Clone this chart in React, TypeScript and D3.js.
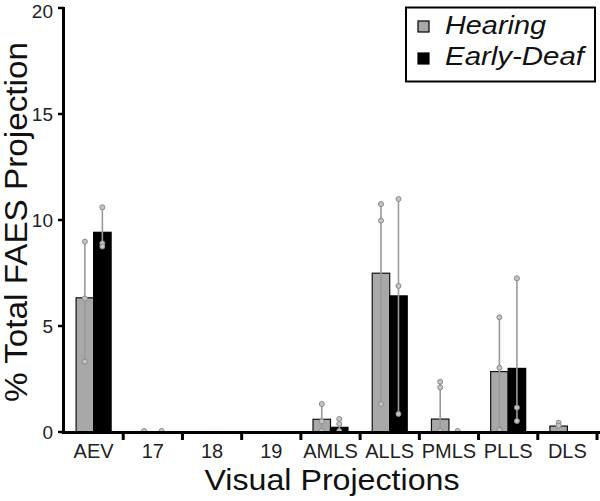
import React from "react";
import * as d3 from "d3";

const categories = ["AEV", "17", "18", "19", "AMLS", "ALLS", "PMLS", "PLLS", "DLS"];
const hearingMeans = [6.33, 0.03, 0, 0, 0.6, 7.49, 0.61, 2.85, 0.28];
const deafMeans = [9.42, 0.02, 0, 0, 0.22, 6.42, 0.03, 3.0, 0];
const hearingPoints: number[][] = [
  [8.98, 6.3, 3.32],
  [0.05],
  [],
  [],
  [1.32, 0.5, 0.05],
  [10.75, 9.97, 1.32],
  [2.37, 2.1, 0.05],
  [5.41, 3.03, 0.1],
  [0.44, 0.3],
];
const deafPoints: number[][] = [
  [10.6, 8.9, 8.75],
  [0.05],
  [],
  [],
  [0.61, 0.38, 0.05],
  [10.99, 6.89, 0.85],
  [0.05],
  [7.25, 1.15, 0.52],
  [],
];
const yTicks = [0, 5, 10, 15, 20];
const seriesNames = ["Hearing", "Early-Deaf"];

const FONT = "'Liberation Sans', Arial, Helvetica, sans-serif";

export default function App() {
  const y = d3.scaleLinear().domain([0, 20]).range([432, 8]);
  const x = d3.scaleBand<string>().domain(categories).range([64, 597]).padding(0);
  const bw = 17.5;
  const gray = "#a8a8a8";
  const lineGray = "#9a9a9a";

  const renderPoints = (pts: number[], cx: number, key: string) => {
    if (!pts.length) return null;
    const ext = d3.extent(pts) as [number, number];
    return (
      <g key={key}>
        {pts.length > 1 && (
          <line x1={cx} x2={cx} y1={y(ext[1])} y2={y(ext[0])} stroke={lineGray} strokeWidth={1.6} />
        )}
        {pts.map((p, i) => (
          <circle key={i} cx={cx} cy={y(p)} r={2.5} fill="#c4c4c4" stroke="#8a8a8a" strokeWidth={1} />
        ))}
      </g>
    );
  };

  return (
    <svg
      width={600}
      height={501}
      style={{ position: "absolute", left: 0, top: 0, background: "#fff" }}
      fontFamily={FONT}
    >
      <rect x={0} y={0} width={600} height={501} fill="#fff" />
      {/* bars */}
      {categories.map((c, i) => {
        const cx = (x(c) as number) + x.bandwidth() / 2;
        const hv = hearingMeans[i];
        const dv = deafMeans[i];
        return (
          <g key={c}>
            {hv > 0.05 && (
              <rect x={cx - bw} y={y(hv)} width={bw} height={y(0) - y(hv)} fill={gray} stroke="#111" strokeWidth={1.2} />
            )}
            {dv > 0.05 && (
              <rect x={cx} y={y(dv)} width={bw} height={y(0) - y(dv)} fill="#000" stroke="#000" strokeWidth={1.2} />
            )}
          </g>
        );
      })}
      {/* individual points */}
      {categories.map((c, i) => {
        const cx = (x(c) as number) + x.bandwidth() / 2;
        return (
          <g key={"p" + c}>
            {renderPoints(hearingPoints[i], cx - bw / 2, "h")}
            {renderPoints(deafPoints[i], cx + bw / 2, "d")}
          </g>
        );
      })}
      {/* y axis */}
      <line x1={63.5} x2={63.5} y1={y(20) - 1} y2={433.5} stroke="#000" strokeWidth={3} />
      {yTicks.map((t) => (
        <g key={t}>
          <line x1={58} x2={64} y1={y(t)} y2={y(t)} stroke="#000" strokeWidth={2.5} />
          <text x={53} y={t === 20 ? y(t) + 3 : y(t)} dy="0.35em" textAnchor="end" fontSize={19} fill="#222">
            {t}
          </text>
        </g>
      ))}
      {/* x axis */}
      <line x1={62} x2={600} y1={432.5} y2={432.5} stroke="#000" strokeWidth={3} />
      {categories.map((c, i) => (
        <line
          key={"t" + c}
          x1={(x(c) as number) + x.bandwidth()}
          x2={(x(c) as number) + x.bandwidth()}
          y1={432}
          y2={440}
          stroke="#000"
          strokeWidth={3}
        />
      ))}
      {categories.map((c) => (
        <text
          key={"l" + c}
          x={(x(c) as number) + x.bandwidth() / 2}
          y={457.5}
          textAnchor="middle"
          fontSize={20}
          fill="#222"
        >
          {c}
        </text>
      ))}
      {/* axis titles */}
      <text x={332} y={490} textAnchor="middle" fontSize={30} fill="#111" textLength={255} lengthAdjust="spacingAndGlyphs">
        Visual Projections
      </text>
      <text
        transform="translate(27,222) rotate(-90)"
        textAnchor="middle"
        fontSize={31}
        fill="#111"
        textLength={360}
        lengthAdjust="spacingAndGlyphs"
      >
        % Total FAES Projection
      </text>
      {/* legend */}
      <rect x={406} y={7.5} width={189} height={74} fill="#fff" stroke="#000" strokeWidth={2} />
      <rect x={418} y={21} width={11} height={11} fill={gray} stroke="#000" strokeWidth={1.2} />
      <rect x={418} y={53} width={11} height={11} fill="#000" stroke="#000" strokeWidth={1.2} />
      <text x={445} y={34} fontSize={25} fontStyle="italic" fill="#111" textLength={101} lengthAdjust="spacingAndGlyphs">
        {seriesNames[0]}
      </text>
      <text x={445} y={65} fontSize={25} fontStyle="italic" fill="#111" textLength={139} lengthAdjust="spacingAndGlyphs">
        {seriesNames[1]}
      </text>
    </svg>
  );
}
